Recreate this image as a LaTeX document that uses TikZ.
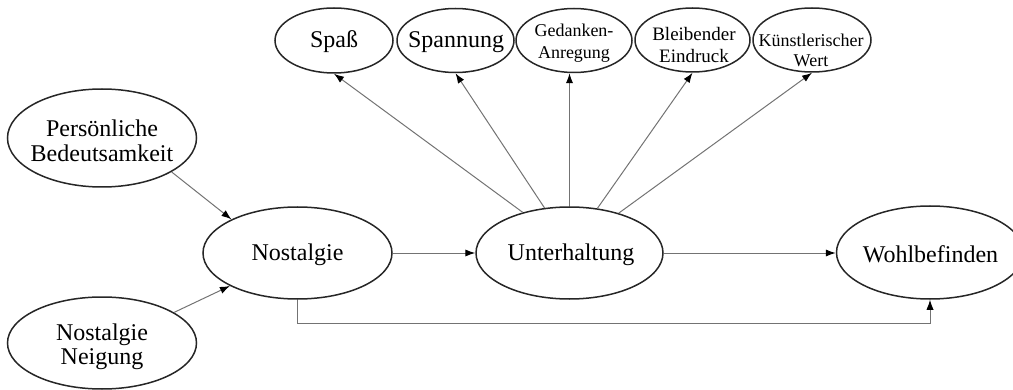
\documentclass[tikz,border=0pt]{standalone}
\usepackage{fontspec}
\setmainfont{Liberation Serif}
\usetikzlibrary{shapes.geometric,arrows.meta}
\begin{document}
\begin{tikzpicture}[x=0.5pt,y=-0.5pt,
  ell/.style={ellipse,draw=black!85,line width=0.75pt,inner sep=0pt},
  txt/.style={inner sep=0pt,align=center,font=\fontsize{12}{12.5}\selectfont},
  smalltxt/.style={inner sep=0pt,align=center,font=\fontsize{9}{10.5}\selectfont},
  arr/.style={draw=black!55,line width=0.5pt,-{Latex[length=5pt,width=3.6pt,color=black]}}]
\useasboundingbox (0,0) rectangle (1013,390);
\clip (0,0) rectangle (1013,390);
% top row
\node[ell,minimum width=59pt,minimum height=32.5pt] (S) at (334,40.5) {};
\node[txt] (S-t) at (334,42) {Spaß};
\node[ell,minimum width=58.5pt,minimum height=32pt] (Sp) at (455.5,40.5) {};
\node[txt] (Sp-t) at (456,42) {Spannung};
\node[ell,minimum width=58pt,minimum height=32pt] (G) at (574,40.5) {};
\node[smalltxt,font=\fontsize{9}{11}\selectfont] (G-t) at (574,43.5) {Gedanken-\\Anregung};
\node[ell,minimum width=57.5pt,minimum height=32pt] (B) at (692.5,40) {};
\node[smalltxt,font=\fontsize{9.5}{11}\selectfont] (B-t) at (694,45) {Bleibender\\Eindruck};
\node[ell,minimum width=59pt,minimum height=32pt] (K) at (812,40) {};
\node[smalltxt,font=\fontsize{9}{10}\selectfont] (K-t) at (811,50) {Künstlerischer\\Wert};
% left
\node[ell,minimum width=94.5pt,minimum height=49pt] (PB) at (102,138) {};
\node[txt] (PB-t) at (102,140.5) {Persönliche\\Bedeutsamkeit};
\node[ell,minimum width=94.5pt,minimum height=46pt] (NN) at (102,343) {};
\node[txt,font=\fontsize{12}{11.8}\selectfont] (NN-t) at (102,347) {Nostalgie\\Neigung};
% middle row
\node[ell,minimum width=94.5pt,minimum height=46pt] (N) at (297.5,253) {};
\node[txt] (N-t) at (297.5,255) {Nostalgie};
\node[ell,minimum width=93.5pt,minimum height=46pt] (U) at (569.5,253) {};
\node[txt] (U-t) at (571,255) {Unterhaltung};
\node[ell,minimum width=93.5pt,minimum height=46.5pt] (W) at (930,252.5) {};
\node[txt] (W-t) at (930.5,254) {Wohlbefinden};
\coordinate (low) at (0,323);
% connectors
\draw[arr] (U.139) -- (S.south);
\draw[arr] (U.119.5) -- (Sp.south);
\draw[arr] (U.north) -- (U.north |- G.south);
\draw[arr] (U.58.6) -- (B.south);
\draw[arr] (U.39) -- (K.south);
\draw[arr] (PB.-26.6) -- (N.153.9);
\draw[arr] (NN.23.9) -- (N.206.7);
\draw[arr] (N.east) -- (U.west);
\draw[arr] (U.east) -- (U.east -| W.west);
\draw[arr] (N.south) -- (N.south |- low) -| (W.south);
\end{tikzpicture}
\end{document}
